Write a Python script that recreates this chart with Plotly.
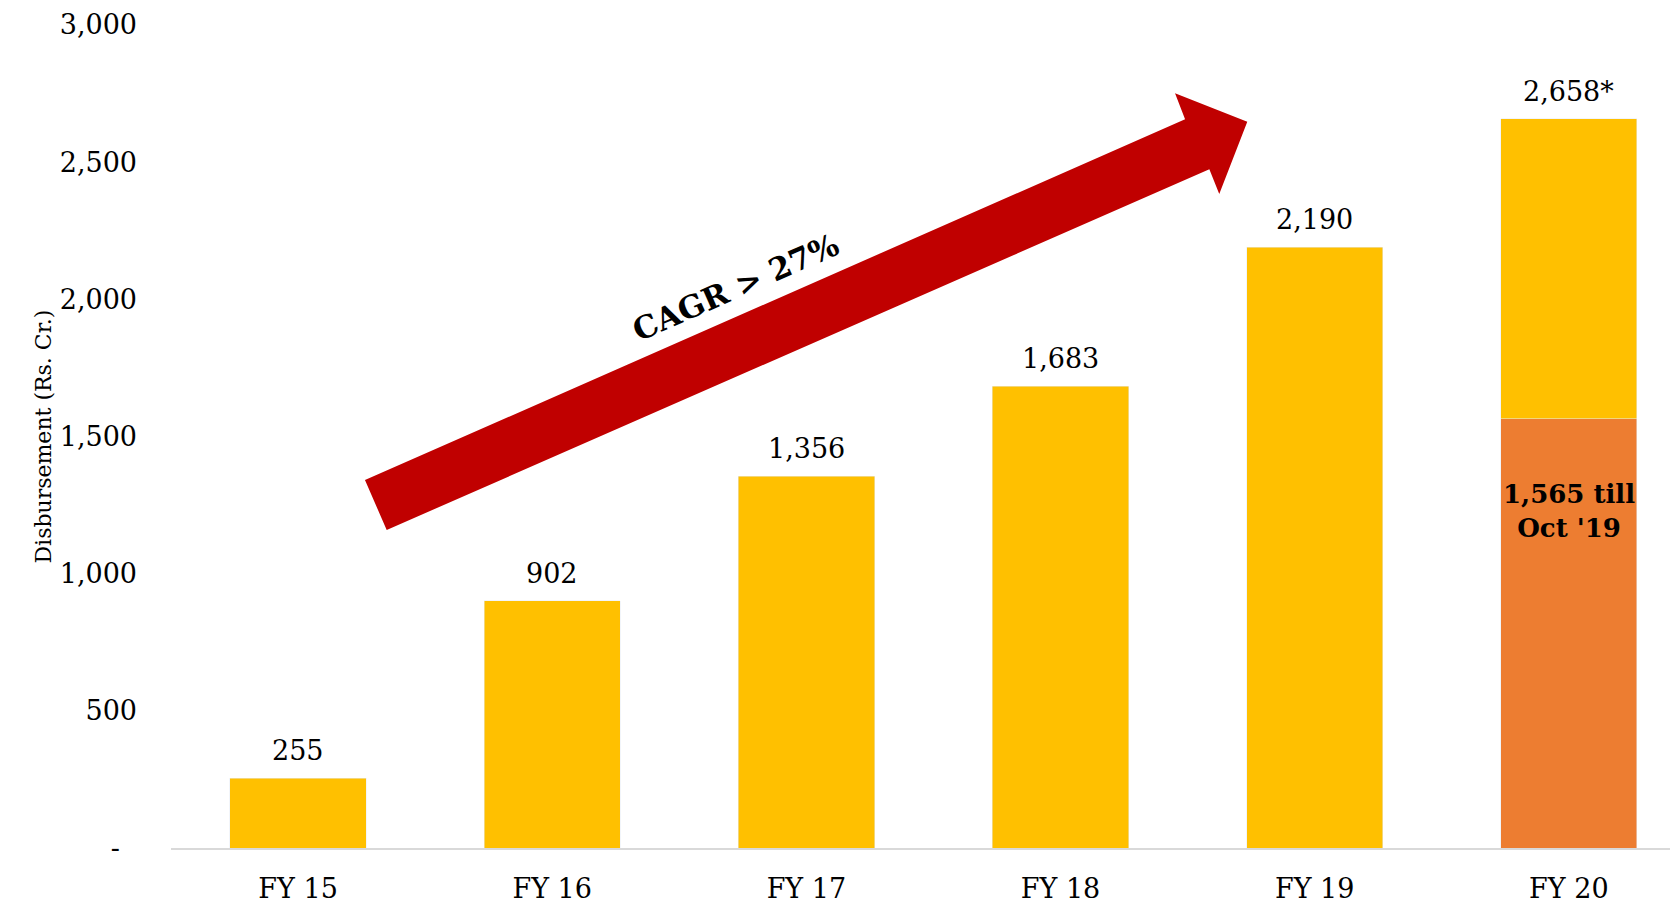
import plotly.graph_objects as go

# Annual disbursement (Rs. Cr.)
categories = ["FY 15", "FY 16", "FY 17", "FY 18", "FY 19", "FY 20"]
disbursement = [255, 902, 1356, 1683, 2190, 2658]
fy20_till_oct = 1565
y_ticks = [0, 500, 1000, 1500, 2000, 2500, 3000]

YELLOW = "#FFC000"
ORANGE = "#ED7D31"
RED = "#C00000"
SERIF = "DejaVu Serif"

# FY 20 is split into the part achieved till Oct '19 and the remainder
yellow_part = disbursement[:-1] + [disbursement[-1] - fy20_till_oct]

fig = go.Figure()
fig.add_trace(go.Bar(x=[categories[-1]], y=[fy20_till_oct], marker_color=ORANGE,
                     width=0.536, showlegend=False, hoverinfo="skip"))
fig.add_trace(go.Bar(x=categories, y=yellow_part, marker_color=YELLOW,
                     width=0.536, showlegend=False))

# value labels above the bars
for i, (cat, val) in enumerate(zip(categories, disbursement)):
    txt = f"{val:,}" + ("*" if i == len(categories) - 1 else "")
    fig.add_annotation(x=cat, y=val, text=txt, showarrow=False, yanchor="bottom",
                       yshift=10, font=dict(family=SERIF, size=27, color="#000000"))

# label inside the FY 20 orange segment
fig.add_annotation(x=categories[-1], y=fy20_till_oct, yshift=-92,
                   text=f"<b>{fy20_till_oct:,} till<br>Oct '19</b>", showarrow=False,
                   yanchor="middle", font=dict(family=SERIF, size=26, color="#000000"))

# growth arrow (paper coordinates of the plot area)
arrow_pts = [(0.1294, 0.4471), (0.6765, 0.8854), (0.6698, 0.9170), (0.7180, 0.8825),
             (0.6993, 0.7947), (0.6927, 0.8247), (0.1439, 0.3864)]
path = "M " + " L ".join(f"{x},{y}" for x, y in arrow_pts) + " Z"
fig.add_shape(type="path", path=path, xref="paper", yref="paper",
              fillcolor=RED, line=dict(width=0), layer="above")
fig.add_annotation(x=0.3769, y=0.6817, xref="paper", yref="paper", text="<b>CAGR > 27%</b>",
                   showarrow=False, textangle=-23.7, xanchor="center", yanchor="middle",
                   font=dict(family=SERIF, size=31, color="#000000"))

# y axis title
fig.add_annotation(x=-0.0947, y=0.4994, xref="paper", yref="paper",
                   text="Disbursement (Rs. Cr.)", showarrow=False, textangle=-90,
                   font=dict(family=SERIF, size=22, color="#000000"))

tick_text = [f"{v:,}" if v else "-\u00a0\u00a0" for v in y_ticks]

fig.update_layout(
    width=1670, height=904,
    margin=dict(l=171, r=0, t=25, b=56, autoexpand=False),
    barmode="stack",
    plot_bgcolor="white", paper_bgcolor="white",
    font=dict(family=SERIF, size=27, color="#000000"),
    xaxis=dict(range=[-0.5, 5.398], categoryorder="array", categoryarray=categories,
               showgrid=False, showline=True, linecolor="#D9D9D9", automargin=False,
               linewidth=1.5, ticks="", ticklabelstandoff=16,
               tickfont=dict(family=SERIF, size=27, color="#000000")),
    yaxis=dict(range=[0, 3000], tickvals=y_ticks, ticktext=tick_text, showgrid=False,
               zeroline=False, showline=False, ticks="", ticklabelstandoff=33,
               automargin=False,
               tickfont=dict(family=SERIF, size=27, color="#000000")),
)

fig.write_html("out.html")
